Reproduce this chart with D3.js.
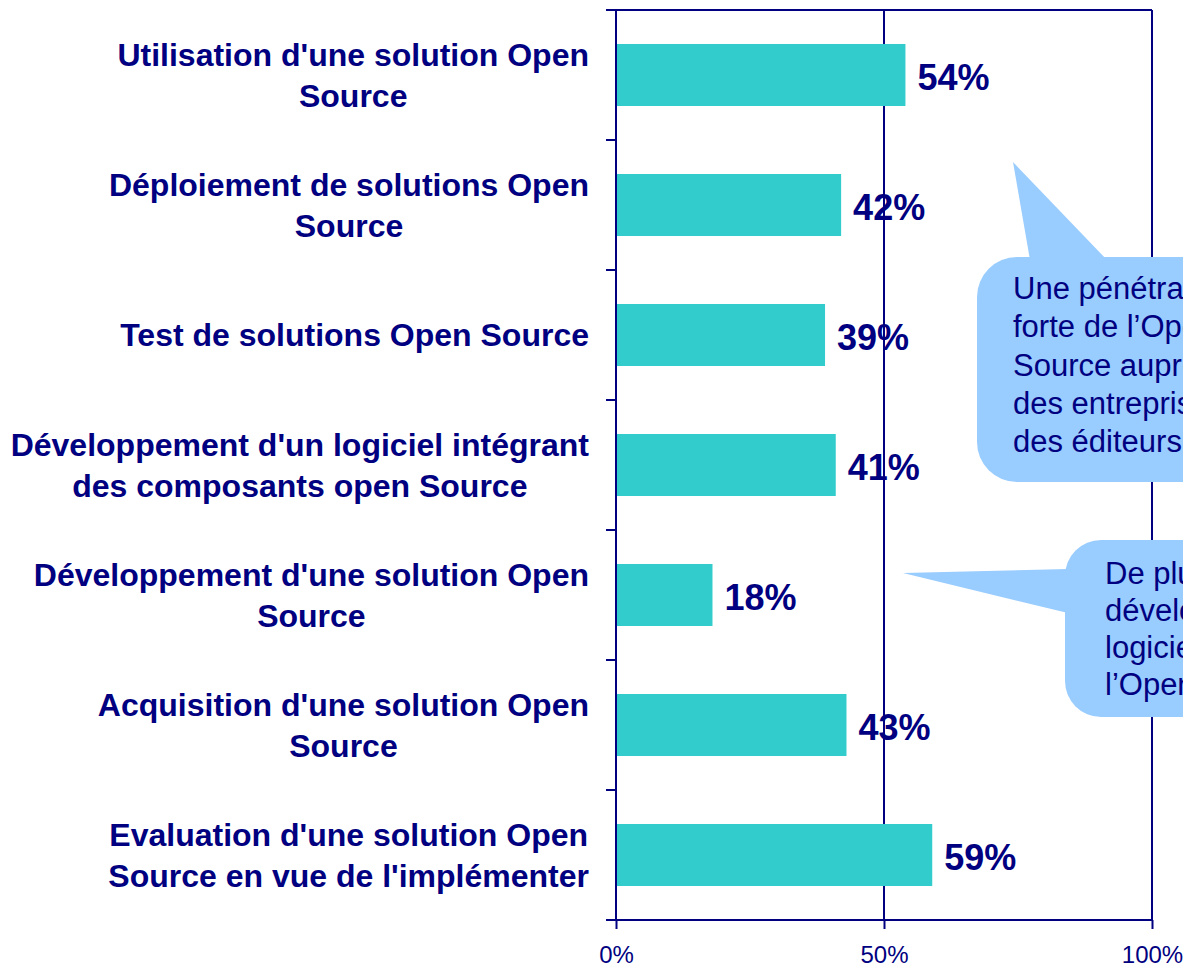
<!DOCTYPE html>
<html>
<head>
<meta charset="utf-8">
<script src="https://cdn.jsdelivr.net/npm/d3@7"></script>
<style>
  html, body { margin: 0; padding: 0; background: #fff; }
  svg { display: block; font-family: "Liberation Sans", Arial, sans-serif; }
</style>
</head>
<body>
<svg id="chart" width="1183" height="966"></svg>
<script>
/* Data */
var categories = [
  "Utilisation d'une solution Open|Source",
  "Déploiement de solutions Open|Source",
  "Test de solutions Open Source",
  "Développement d'un logiciel intégrant|des composants open Source",
  "Développement d'une solution Open|Source",
  "Acquisition d'une solution Open|Source",
  "Evaluation d'une solution Open|Source en vue de l'implémenter"
];
var values = [0.54, 0.42, 0.39, 0.41, 0.18, 0.43, 0.59];
var tickValues = [0, 0.5, 1];
var tickLabels = ["0%", "50%", "100%"];

var callout1Lines = ["Une pénétration", "forte de l’Open", "Source auprès", "des entreprises et", "des éditeurs"];
var callout2Lines = ["De plus en plus de", "développements de", "logiciels à partir de", "l’Open Source"];

var navy = "#000080";
var barColor = "#33CCCC";
var calloutColor = "#99CCFF";

/* Scales */
var x = d3.scaleLinear().domain([0, 1]).range([616, 1152]);
var y = d3.scaleBand()
  .domain(categories)
  .range([10, 920])
  .paddingInner(0.523)
  .paddingOuter(0.2615);

var svg = d3.select("svg#chart");

// frame + 50% gridline
svg.append("g")
  .selectAll("line.grid")
  .data([0.5, 1])
  .enter()
  .append("line")
  .attr("x1", d => x(d))
  .attr("x2", d => x(d))
  .attr("y1", 10)
  .attr("y2", 920)
  .attr("stroke", navy)
  .attr("stroke-width", 2);

svg.append("line")
  .attr("x1", 606).attr("x2", x(1))
  .attr("y1", 10).attr("y2", 10)
  .attr("stroke", navy).attr("stroke-width", 2);

// bars
svg.append("g")
  .selectAll("rect")
  .data(values)
  .enter()
  .append("rect")
  .attr("x", x(0))
  .attr("y", (d, i) => y(categories[i]))
  .attr("width", d => x(d) - x(0))
  .attr("height", y.bandwidth())
  .attr("fill", barColor);

// y axis line and ticks at band boundaries
var yStart = y.range()[0];
svg.append("line")
  .attr("x1", x(0)).attr("x2", x(0))
  .attr("y1", yStart).attr("y2", y.range()[1])
  .attr("stroke", navy).attr("stroke-width", 2);

svg.append("g")
  .selectAll("line")
  .data(d3.range(categories.length + 1))
  .enter()
  .append("line")
  .attr("x1", x(0) - 10).attr("x2", x(0))
  .attr("y1", i => yStart + i * y.step())
  .attr("y2", i => yStart + i * y.step())
  .attr("stroke", navy).attr("stroke-width", 2);

// x axis
var xAxis = d3.axisBottom(x)
  .tickValues(tickValues)
  .tickFormat((d, i) => tickLabels[i])
  .tickSize(9)
  .tickSizeOuter(0);

var gx = svg.append("g")
  .attr("transform", "translate(0," + y.range()[1] + ")")
  .call(xAxis);
gx.select(".domain").remove();
gx.selectAll(".tick line").attr("stroke", navy).attr("stroke-width", 2);
gx.selectAll(".tick text")
  .attr("fill", navy)
  .attr("font-size", 24)
  .attr("font-family", "'Liberation Sans', Arial, sans-serif")
  .attr("y", 43)
  .attr("dy", null);
gx.append("line")
  .attr("x1", x(0) - 10).attr("x2", x(1))
  .attr("y1", 0).attr("y2", 0)
  .attr("stroke", navy).attr("stroke-width", 2);

// value labels
svg.append("g")
  .selectAll("text")
  .data(values)
  .enter()
  .append("text")
  .attr("x", d => x(d) + 12)
  .attr("y", (d, i) => y(categories[i]) + y.bandwidth() / 2 + 15)
  .attr("fill", navy)
  .attr("font-size", 36)
  .attr("font-weight", "bold")
  .text(d => Math.round(d * 100) + "%");

// category labels (block right-aligned, lines centered)
var labelRight = 589;
categories.forEach(function (cat) {
  var lines = cat.split("|");
  var cy = y(cat) + y.bandwidth() / 2;
  var g = svg.append("g");
  var texts = lines.map(function (ln, j) {
    return g.append("text")
      .attr("y", cy + (j - (lines.length - 1) / 2) * 41 + 11)
      .attr("text-anchor", "middle")
      .attr("fill", navy)
      .attr("font-size", 32)
      .attr("font-weight", "bold")
      .text(ln);
  });
  var maxW = d3.max(texts, t => t.node().getComputedTextLength());
  texts.forEach(t => t.attr("x", labelRight - maxW / 2));
});

/* Callouts */
function callout(rect, tip, base, lines, textX, firstBase, lineH) {
  var g = svg.append("g");
  g.append("rect")
    .attr("x", rect.x).attr("y", rect.y)
    .attr("width", rect.w).attr("height", rect.h)
    .attr("rx", rect.r).attr("ry", rect.r)
    .attr("fill", calloutColor);
  g.append("path")
    .attr("d", d3.line()([tip, base[0], base[1]]) + "Z")
    .attr("fill", calloutColor);
  g.selectAll("text")
    .data(lines)
    .enter()
    .append("text")
    .attr("x", textX)
    .attr("y", (d, i) => firstBase + i * lineH)
    .attr("fill", navy)
    .attr("font-size", 31)
    .text(d => d);
}

callout({x: 977, y: 257, w: 320, h: 225, r: 40},
  [1013, 162], [[1030, 260], [1107, 260]],
  callout1Lines, 1013, 299, 38.3);

callout({x: 1065, y: 540, w: 260, h: 177, r: 36},
  [903, 573], [[1068, 569], [1068, 613]],
  callout2Lines, 1105, 584, 37);
</script>
</body>
</html>
